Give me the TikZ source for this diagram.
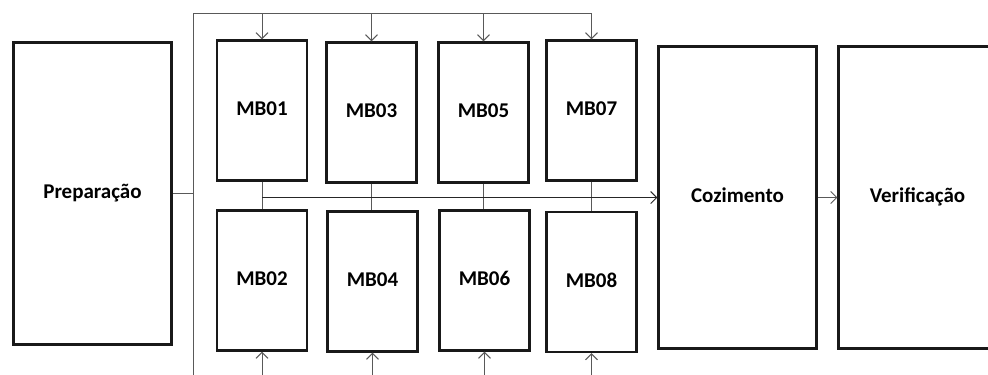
\documentclass[tikz,border=0pt]{standalone}
\usepackage{fontspec}
\setmainfont{Carlito}
\usetikzlibrary{arrows.meta}

\begin{document}
\begin{tikzpicture}[x=0.5pt,y=-0.5pt,box/.style={draw=black!90,line width=1.1pt,inner sep=0pt,align=center,font=\fontsize{10.5}{12}\selectfont\bfseries,text height=7pt,text depth=2pt,minimum width=45pt,minimum height=70pt},big/.style={box,minimum width=79pt,minimum height=151pt},link/.style={draw=black!65,line width=0.5pt},arr/.style={link,-{Straight Barb[length=3pt,width=6pt]}}]
\clip (0,0) rectangle (988,374);
\node[big] (prep) at (92.5,193.5) {Preparação};
\node[box] (mb1) at (262,110.5) {MB01};
\node[box] (mb2) at (262,280.5) {MB02};
\node[box] (mb3) at (371.5,112.5) {MB03};
\node[box] (mb4) at (372.5,281.5) {MB04};
\node[box] (mb5) at (483.5,112.5) {MB05};
\node[box] (mb6) at (484.5,280.5) {MB06};
\node[box] (mb7) at (591.5,110.5) {MB07};
\node[box] (mb8) at (591.5,282) {MB08};
\node[big] (coz) at (737.5,197.5) {Cozimento};
\node[big] (ver) at (917.5,197.5) {Verificação};
\coordinate (top) at (193,14);
\coordinate (bot) at (193,392);
\draw[link] (prep.east) -- (prep.east -| top);\draw[link] (top) -- (bot);
\draw[link] (top) -- (top -| mb7.north);\draw[link] (bot) -- (bot -| mb8.south);
\foreach \i in {1,3,5,7} \draw[arr] (top -| mb\i.north) -- (mb\i.north);
\foreach \i in {2,4,6,8} \draw[arr] (bot -| mb\i.south) -- (mb\i.south);
\draw[link] (mb1.south) -- (mb1.south |- mb2.north);\draw[link] (mb3.south) -- (mb3.south |- mb4.north);
\draw[link] (mb5.south) -- (mb5.south |- mb6.north);\draw[link] (mb7.south) -- (mb7.south |- mb8.north);
\draw[arr,draw=black!85] (mb1.south |- coz.west) -- (coz.west);
\draw[arr] (coz) -- (ver);
\end{tikzpicture}
\end{document}
